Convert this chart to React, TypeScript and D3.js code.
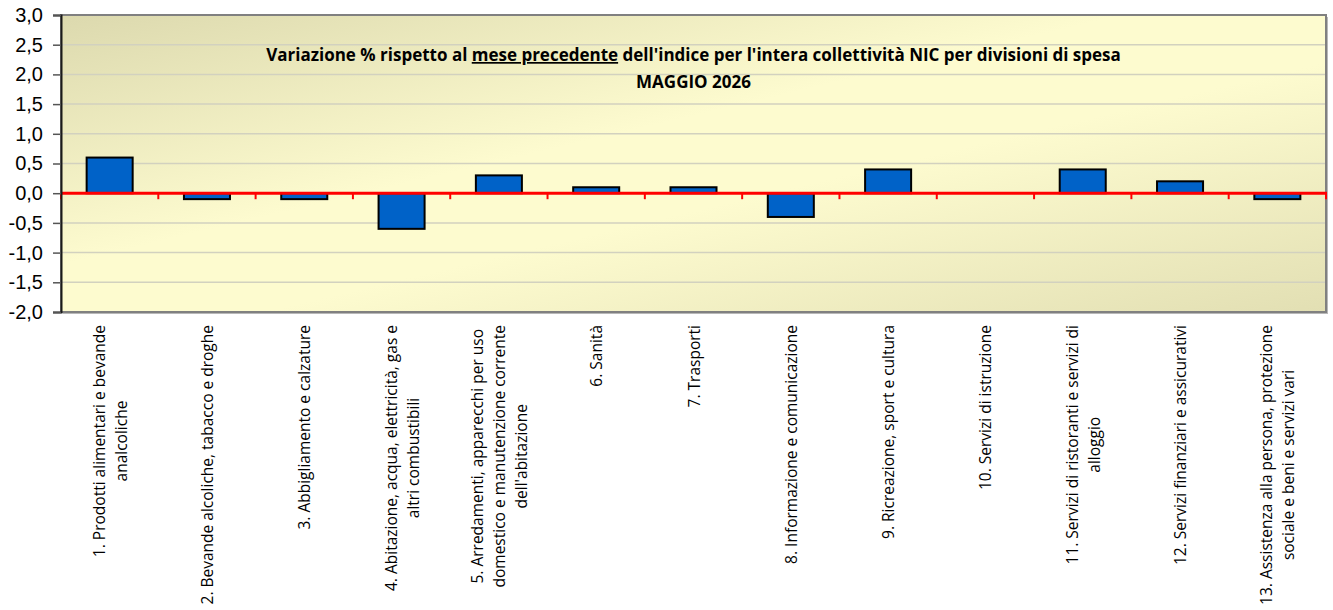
import { useEffect, useRef } from 'react';
import * as d3 from 'd3';

const categoryLabels: string[][] = [
  ['1. Prodotti alimentari e bevande', 'analcoliche'],
  ['2. Bevande alcoliche, tabacco e droghe'],
  ['3. Abbigliamento e calzature'],
  ['4. Abitazione, acqua, elettricità, gas e', 'altri combustibili'],
  ['5. Arredamenti, apparecchi per uso', 'domestico e manutenzione corrente', "dell'abitazione"],
  ['6. Sanità'],
  ['7. Trasporti'],
  ['8. Informazione e comunicazione'],
  ['9. Ricreazione, sport e cultura'],
  ['10. Servizi di istruzione'],
  ['11. Servizi di ristoranti e servizi di', 'alloggio'],
  ['12. Servizi finanziari e assicurativi'],
  ['13. Assistenza alla persona, protezione', 'sociale e beni e servizi vari'],
];

const values = [0.6, -0.1, -0.1, -0.6, 0.3, 0.1, 0.1, -0.4, 0.4, 0.0, 0.4, 0.2, -0.1];

const yTicks = [3.0, 2.5, 2.0, 1.5, 1.0, 0.5, 0.0, -0.5, -1.0, -1.5, -2.0];

const titleParts = [
  { text: 'Variazione % rispetto al ', underline: false },
  { text: 'mese precedente', underline: true },
  { text: " dell'indice per l'intera collettività NIC per divisioni di spesa", underline: false },
];
const subtitle = 'MAGGIO 2026';

const WIDTH = 1333;
const HEIGHT = 610;

export default function App() {
  const svgRef = useRef<SVGSVGElement | null>(null);

  useEffect(() => {
    const el = svgRef.current;
    if (!el) return;
    const svg = d3.select(el);
    svg.selectAll('*').remove();

    const margin = { top: 15, right: 7, bottom: 298, left: 61 };
    const x0 = margin.left;
    const x1 = WIDTH - margin.right;
    const y0 = margin.top;
    const y1 = HEIGHT - margin.bottom;

    const x = d3.scaleBand<number>()
      .domain(values.map((_, i) => i))
      .range([x0, x1])
      .paddingInner(0.527)
      .paddingOuter(0.2635);
    const y = d3.scaleLinear().domain([-2, 3]).range([y1, y0]);

    const locale = d3.formatLocale({
      decimal: ',', thousands: '.', grouping: [3], currency: ['€', ''], minus: '-',
    });
    const fmt = locale.format('.1f');

    // background gradient
    const defs = svg.append('defs');
    const grad = defs.append('linearGradient')
      .attr('id', 'plotBg')
      .attr('x1', 0).attr('y1', 0).attr('x2', 1).attr('y2', 1);
    grad.append('stop').attr('offset', '0%').attr('stop-color', '#dcd9ae');
    grad.append('stop').attr('offset', '42%').attr('stop-color', '#fdfbcf');
    grad.append('stop').attr('offset', '58%').attr('stop-color', '#fdfbcf');
    grad.append('stop').attr('offset', '100%').attr('stop-color', '#e2dfb3');

    // shadow
    svg.append('rect')
      .attr('x', x0 + 2).attr('y', y0 + 2)
      .attr('width', x1 - x0).attr('height', y1 - y0)
      .attr('fill', '#b8b8b8');

    svg.append('rect')
      .attr('x', x0).attr('y', y0)
      .attr('width', x1 - x0).attr('height', y1 - y0)
      .attr('fill', 'url(#plotBg)');

    // grid lines
    svg.append('g')
      .selectAll('line')
      .data(yTicks.filter((t) => t !== 0))
      .join('line')
      .attr('x1', x0).attr('x2', x1)
      .attr('y1', (d) => y(d)).attr('y2', (d) => y(d))
      .attr('stroke', '#d2d1bf')
      .attr('stroke-width', 1.5);

    // bars
    svg.append('g')
      .selectAll('rect')
      .data(values)
      .join('rect')
      .attr('x', (_, i) => x(i)!)
      .attr('width', x.bandwidth())
      .attr('y', (d) => y(Math.max(0, d)))
      .attr('height', (d) => Math.abs(y(d) - y(0)))
      .attr('fill', '#0062c8')
      .attr('stroke', '#000')
      .attr('stroke-width', 2);

    // plot border
    svg.append('rect')
      .attr('x', x0).attr('y', y0)
      .attr('width', x1 - x0).attr('height', y1 - y0)
      .attr('fill', 'none')
      .attr('stroke', '#808080')
      .attr('stroke-width', 2);

    // zero (category) axis in red
    const step = x.step();
    svg.append('g')
      .selectAll('line')
      .data(d3.range(values.length + 1))
      .join('line')
      .attr('x1', (k) => x0 + k * step).attr('x2', (k) => x0 + k * step)
      .attr('y1', y(0)).attr('y2', y(0) + 6)
      .attr('stroke', '#ff0000')
      .attr('stroke-width', 2);
    svg.append('line')
      .attr('x1', x0).attr('x2', x1 + 1)
      .attr('y1', y(0)).attr('y2', y(0))
      .attr('stroke', '#ff0000')
      .attr('stroke-width', 3);

    // value axis
    const yAxis = svg.append('g')
      .attr('transform', `translate(${x0},0)`)
      .call(d3.axisLeft(y).tickValues(yTicks).tickSize(8).tickPadding(10).tickFormat((d) => fmt(d as number)));
    yAxis.select('.domain').attr('stroke', '#1a1a1a').attr('stroke-width', 2);
    yAxis.selectAll('.tick line').attr('stroke', '#555').attr('stroke-width', 1.5);
    yAxis.selectAll('.tick text')
      .attr('fill', '#000')
      .attr('font-size', '20px')
      .attr('font-family', '"Liberation Sans", Arial, sans-serif');

    // category labels (rotated, lines centered on each other)
    const lh = 22;
    const labelTop = 325;
    categoryLabels.forEach((lines, i) => {
      const cx = x(i)! + x.bandwidth() / 2;
      const g = svg.append('g').attr('transform', `translate(${cx},0) rotate(-90)`);
      const texts = lines.map((line, j) =>
        g.append('text')
          .attr('y', (j - (lines.length - 1) / 2) * lh)
          .attr('dominant-baseline', 'central')
          .attr('text-anchor', 'middle')
          .attr('font-size', '15.5px')
          .attr('font-family', '"Open Sans", sans-serif')
          .attr('fill', '#000')
          .text(line)
      );
      const maxLen = d3.max(texts, (t) => (t.node() as SVGTextElement).getComputedTextLength()) || 0;
      texts.forEach((t) => t.attr('x', -(labelTop + maxLen / 2)));
    });

    // title
    const cxTitle = (x0 + x1) / 2;
    const title = svg.append('text')
      .attr('x', cxTitle).attr('y', 61)
      .attr('text-anchor', 'middle')
      .attr('font-size', '17px')
      .attr('font-weight', 'bold')
      .attr('font-family', '"Open Sans", sans-serif')
      .attr('fill', '#000');
    titleParts.forEach((p) => {
      title.append('tspan')
        .attr('text-decoration', p.underline ? 'underline' : null)
        .text(p.text);
    });
    svg.append('text')
      .attr('x', cxTitle).attr('y', 88)
      .attr('text-anchor', 'middle')
      .attr('font-size', '17px')
      .attr('font-weight', 'bold')
      .attr('font-family', '"Open Sans", sans-serif')
      .attr('fill', '#000')
      .text(subtitle);
  }, []);

  return (
    <svg
      ref={svgRef}
      width={WIDTH}
      height={HEIGHT}
      style={{ position: 'absolute', left: 0, top: 0, background: '#fff' }}
    />
  );
}
